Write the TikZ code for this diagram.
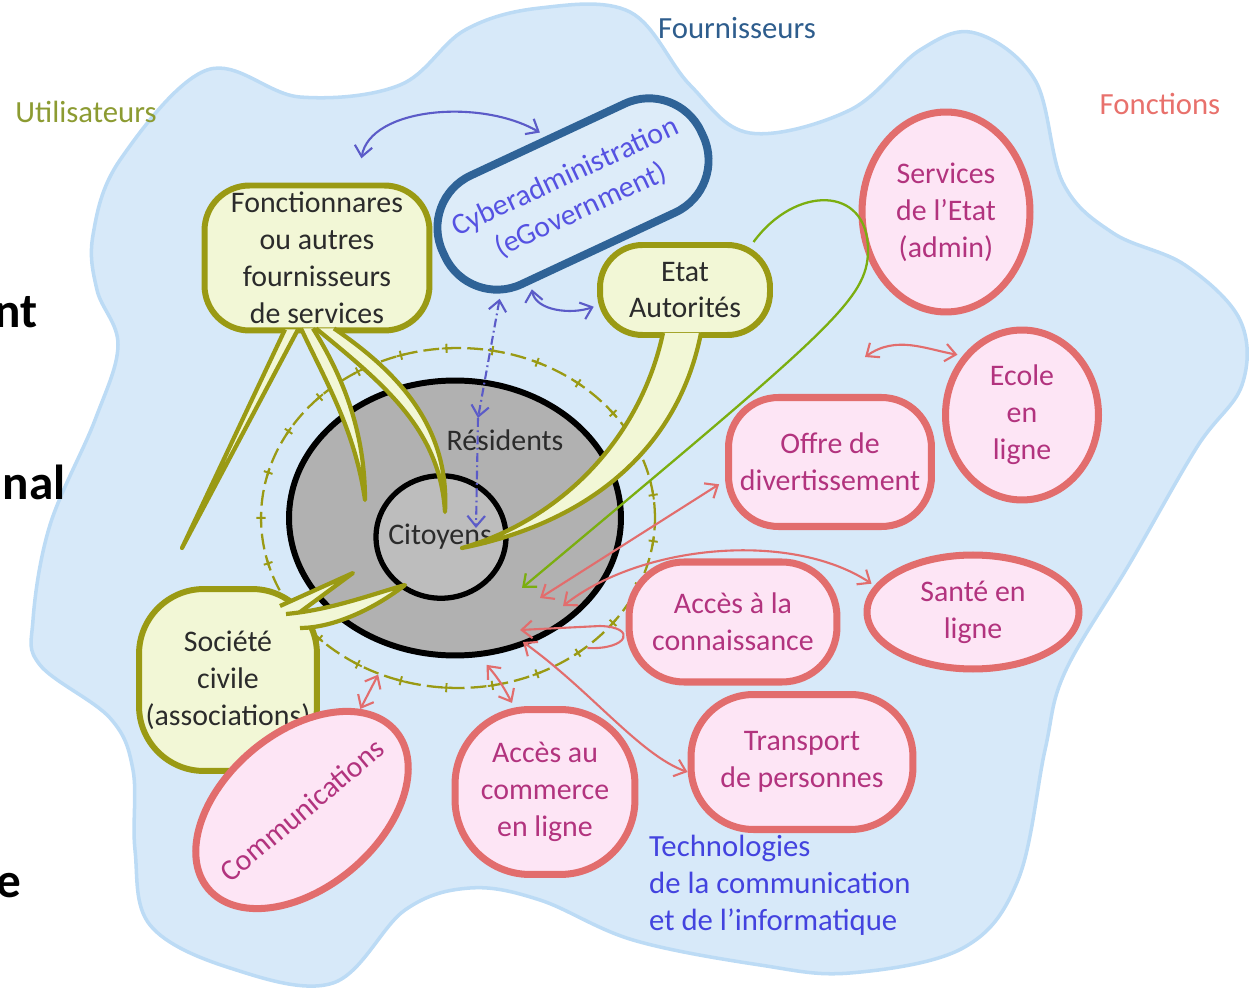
\documentclass[tikz,border=0pt]{standalone}
\usepackage{fontspec}
\setmainfont{Carlito}
\usetikzlibrary{arrows.meta, calc, shapes.geometric, decorations.markings}
\definecolor{SkyFill}{HTML}{D7E9F9}
\definecolor{SkyEdge}{HTML}{BCDBF5}
\definecolor{UserLine}{HTML}{9A9A14}
\definecolor{UserFill}{HTML}{F2F7D6}
\definecolor{UserText}{HTML}{8C9B32}
\definecolor{FnLine}{HTML}{E26D6D}
\definecolor{FnFill}{HTML}{FDE5F5}
\definecolor{FnText}{HTML}{B2337E}
\definecolor{FnTitle}{HTML}{E8716C}
\definecolor{GovLine}{HTML}{2F6397}
\definecolor{GovFill}{HTML}{DDECF9}
\definecolor{GovText}{HTML}{5552E2}
\definecolor{ProvText}{HTML}{2E5D8D}
\definecolor{TicText}{HTML}{4343DF}
\definecolor{LinkBlue}{HTML}{5B5BC8}
\definecolor{DiscGrey}{HTML}{B1B1B1}
\definecolor{CoreGrey}{HTML}{BDBDBD}
\definecolor{InkGrey}{HTML}{2B2B2B}
\newcommand{\bodyfont}{\fontsize{17}{21}\selectfont}
\newcommand{\headfont}{\fontsize{17.5}{21}\selectfont}
\newcommand{\fragfont}{\fontsize{28}{30}\selectfont\bfseries}

\begin{document}
\begin{tikzpicture}[
    x=0.02cm, y=-0.02cm,
    >={Straight Barb[length=6pt, width=10pt]},
    bubble/.style={draw=UserLine, line width=3.4pt, fill=UserFill,
      text=InkGrey, align=center, font=\bodyfont, inner sep=2pt},
    tail/.style={draw=UserLine, line width=2.4pt, fill=UserFill, line join=round},
    fnbox/.style={draw=FnLine, line width=4pt, fill=FnFill,
      text=FnText, align=center, font=\bodyfont, inner sep=2pt},
    disc/.style={ellipse, draw=black, line width=3.4pt, fill=DiscGrey, inner sep=0pt},
    ring/.style={ellipse, draw=UserLine, line width=1.3pt, inner sep=0pt,
      dash pattern=on 9pt off 3.5pt,
      postaction={decorate, decoration={markings,
        mark=between positions 0.02 and 1 step 0.04 with
        {\draw[solid, draw=UserLine, line width=1.1pt]
          (-2.6pt,0) -- (2.6pt,0) (0,-2.6pt) -- (0,2.6pt);}}}},
    pinklink/.style={draw=FnLine, line width=1.2pt},
    bluelink/.style={draw=LinkBlue, line width=1.2pt},
    olivelink/.style={draw=UserLine!80!green, line width=1.3pt},
    title/.style={font=\headfont},
    txt/.style={text=InkGrey, font=\bodyfont},
    frag/.style={font=\fragfont, text=black, anchor=base east, inner sep=0pt}
  ]
    \useasboundingbox (0,0) rectangle (1249,993);

    \fill[SkyFill, draw=SkyEdge, line width=2pt] plot[smooth cycle, tension=0.6]
      coordinates {(207,70) (300,97) (400,85) (465,30) (540,8) (630,12) (690,85)
      (750,133) (850,110) (920,50) (975,33) (1035,80) (1063,183) (1113,233)
      (1185,265) (1240,320) (1242,385) (1197,447) (1130,563) (1065,672)
      (1045,750) (1018,880) (963,948) (850,973) (760,965) (633,940) (540,900)
      (470,888) (405,910) (333,983) (230,968) (150,925) (135,850) (133,770)
      (110,718) (40,665) (33,620) (50,525) (95,420) (118,345) (97,290)
      (93,235) (120,160)};

    \node[frag] (fragA) at (38,328) {nt};
    \node[frag] (fragB) at (66,500) {nal};
    \node[frag] (fragC) at (22,897) {e};

    \node[title, text=UserText] (users) at (86,112) {Utilisateurs};
    \node[title, text=ProvText] (providers) at (737,28) {Fournisseurs};
    \node[title, text=FnTitle] (functions) at (1160,104) {Fonctions};
    \node[title, text=TicText, anchor=west, align=left] (tic) at (643,885)
      {Technologies\\de la communication\\et de l’informatique};

    \node[ring, minimum width=7.88cm, minimum height=6.8cm] (ring) at (458,518) {};
    \node[disc, minimum width=6.64cm, minimum height=5.5cm] (res) at (455,518) {};
    \node[disc, fill=CoreGrey, line width=3pt, minimum width=2.6cm,
      minimum height=2.45cm] (cit) at (441,537) {};
    \node[txt] (reslabel) at (505,440) {Résidents};
    \node[txt] (citlabel) at (440,537) {Citoyens};

    \node[bubble, rounded corners=0.9cm, minimum width=4.5cm, minimum height=2.9cm]
      (fonct) at (317,258) {Fonctionnares\\ou autres\\fournisseurs\\de services};
    \node[bubble, rounded corners=0.85cm, minimum width=3.4cm, minimum height=1.8cm]
      (etat) at (685,290) {Etat\\Autorités};
    \node[bubble, rounded corners=1.3cm, minimum width=3.56cm, minimum height=3.64cm]
      (societe) at (228,680) {Société\\civile\\(associations)};

    \path[tail] ($(fonct.south)+(-32,-4)$) -- (182,548) -- ($(fonct.south)+(-19,-4)$);
    \path[tail] ($(fonct.south)+(-16,-5)$) .. controls (325,380) and (355,430) ..
      (365,500) .. controls (365,430) and (342,375) .. ($(fonct.south)+(-4,-5)$);
    \path[tail] ($(fonct.south)+(-1,-5)$) .. controls (385,385) and (440,430) ..
      (445,512) .. controls (450,425) and (395,370) .. ($(fonct.south)+(17,-5)$);
    \path[tail] ($(etat.south)+(-22,-5)$) .. controls (640,440) and (560,520) ..
      (462,548) .. controls (600,520) and (680,440) .. ($(etat.south)+(16,-5)$);
    \path[tail] ($(societe.center)+(52,-74)$) -- (353,573) -- ($(societe.center)+(64,-62)$);
    \path[tail] ($(societe.center)+(58,-66)$) .. controls (330,610) and (370,595) ..
      (405,585) .. controls (370,612) and (330,628) .. ($(societe.center)+(72,-52)$);

    \node[draw=GovLine, line width=4.5pt, fill=GovFill, text=GovText,
      rounded corners=1.15cm, minimum width=5.7cm, minimum height=2.4cm,
      rotate=25, align=center, font=\bodyfont] (cyber) at (573,194)
      {Cyberadministration\\(eGovernment)};

    \node[fnbox, ellipse, minimum width=3.36cm, minimum height=4cm]
      (services) at (946,212) {Services\\de l’Etat\\(admin)};
    \node[fnbox, ellipse, minimum width=3.06cm, minimum height=3.4cm]
      (ecole) at (1022,415) {Ecole\\en\\ligne};
    \node[fnbox, rounded corners=1cm, minimum width=4.06cm, minimum height=2.58cm]
      (offre) at (830,462) {Offre de\\divertissement};
    \node[fnbox, ellipse, minimum width=4.24cm, minimum height=2.28cm]
      (sante) at (973,612) {Santé en\\ligne};
    \node[fnbox, rounded corners=1.1cm, minimum width=4.16cm, minimum height=2.4cm]
      (conn) at (733,622) {Accès à la\\connaissance};
    \node[fnbox, rounded corners=1.25cm, minimum width=4.44cm, minimum height=2.7cm]
      (transport) at (802,762) {Transport\\de personnes};
    \node[fnbox, rounded corners=1.5cm, minimum width=3.6cm, minimum height=3.3cm]
      (commerce) at (545,792) {Accès au\\commerce\\en ligne};
    \node[fnbox, ellipse, inner xsep=-12pt, inner ysep=0pt, minimum width=4.9cm,
      minimum height=3.1cm, rotate=40] (comm) at (302,810) {Communications};

    \coordinate (hub) at (865,357);
    \coordinate (resin) at (478,418);
    \coordinate (citin) at (476,528);

    \draw[bluelink, <->, shorten <=14pt, shorten >=4pt] (fonct.62)
      to[out=80, in=150] (cyber.north);
    \draw[bluelink, <->, shorten <=3pt, shorten >=2pt] (cyber.-140)
      to[out=-80, in=200] (etat.190);
    \draw[bluelink, dash pattern=on 5pt off 2pt on 1pt off 2pt, <->] (cyber.-150) -- (resin);
    \draw[bluelink, dash pattern=on 5pt off 2pt on 1pt off 2pt, ->] (resin) -- (citin);

    \draw[olivelink, ->] (etat.35) .. controls (795,185) and (868,185) .. (868,250)
      .. controls (868,300) and (830,330) .. ($(res.center)+(67,70)$);

    \draw[pinklink, <->, shorten >=3pt] (hub) to[out=35, in=170] (ecole.135);
    \draw[pinklink, <->, shorten >=4pt] ($(res.center)+(85,80)$) -- (offre.190);
    \draw[pinklink, <->, shorten >=2pt] ($(res.center)+(108,88)$)
      .. controls (640,545) and (790,530) .. (sante.165);
    \draw[pinklink, ->] ($(conn.west)+(-38,26)$) .. controls (628,650) and (638,627) ..
      (600,626) -- ($(res.center)+(65,112)$);
    \draw[pinklink, <->] ($(res.center)+(68,124)$) .. controls (590,690) and (640,755) ..
      (transport.185);
    \draw[pinklink, <->, shorten <=6pt, shorten >=2pt] (res.-80)
      .. controls (500,680) and (505,690) .. (commerce.110);
    \draw[pinklink, <->] (ring.-117) -- (comm.20);
  \end{tikzpicture}
\end{document}
